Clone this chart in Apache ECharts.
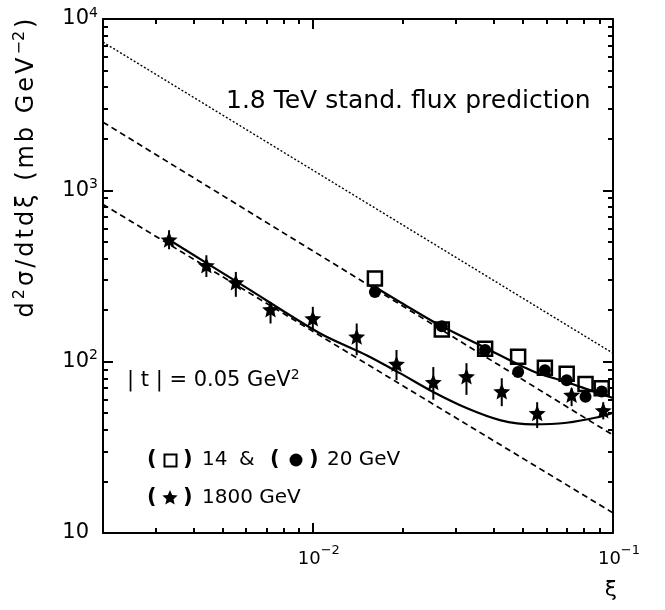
<!DOCTYPE html>
<html><head><meta charset="utf-8">
<script src="https://cdn.jsdelivr.net/npm/echarts@6/dist/echarts.min.js"></script>
<style>html,body{margin:0;padding:0;background:#fff}#c{width:665px;height:610px}</style>
</head><body><div id="c"></div>
<script>
// ---------- axes ----------
const xRange = [0.002, 0.1];
const yRange = [10, 10000];
const xTickValues = [0.01, 0.1];
const xTickLabels = ['10^−2', '10^−1'];
const yTickValues = [10, 100, 1000, 10000];
const yTickLabels = ['10', '10^2', '10^3', '10^4'];
const xMinorTickValues = [0.002,0.003,0.004,0.005,0.006,0.007,0.008,0.009,0.02,0.03,0.04,0.05,0.06,0.07,0.08,0.09];
const yMinorTickValues = [20,30,40,50,60,70,80,90,200,300,400,500,600,700,800,900,2000,3000,4000,5000,6000,7000,8000,9000];

// ---------- data: 1800 GeV (stars) ----------
const xi1800    = [0.00332,0.00442,0.00554,0.00723,0.0100,0.0140,0.0190,0.0252,0.0325,0.0426,0.0559,0.0728,0.0928];
const val1800   = [516,365,290,202,179,140,97,76,82,67,50,64,52];
const errLo1800 = [453,312,239,167,153,109,78,60,64,55,41,55,46];
const errHi1800 = [585,418,334,223,209,167,117,93,98,80,58,70,58];

// ---------- data: 14 GeV (open squares) and 20 GeV (filled circles) ----------
const xi14  = [0.0161,0.0269,0.0375,0.0483,0.0593,0.0701,0.0810,0.0917];
const val14 = [306,154,119,107,92,85,74,70];
const xi20  = [0.0161,0.0269,0.0375,0.0483,0.0593,0.0701,0.0810,0.0917];
const val20 = [255,161,117,87,89,78,62.5,67];

// ---------- curves ----------
const fluxPredXi = [0.002, 0.1];
const fluxPredVal = [7330, 112];
const dashUpXi = [0.002, 0.1];
const dashUpVal = [2500, 37.3];
const dashLoXi = [0.002, 0.1];
const dashLoVal = [828, 13.1];
const fitLowXi  = [0.0161,0.0195,0.0265,0.0375,0.0541,0.0703,0.0838,0.1];
const fitLowVal = [273,223,163,120.6,88,75.9,68.2,61.3];
const fit1800Xi  = [0.00334,0.00593,0.01055,0.0151,0.0195,0.0251,0.0325,0.042,0.0541,0.0701,0.0905,0.1];
const fit1800Val = [511,274,146.6,109.1,85.7,66.7,53.6,45.6,43.0,44.0,47.7,50.3];

// ---------- build ----------
const FONT = 'DejaVu Sans';
const L = Math.log10;
const zip = (a, b) => a.map((v, i) => [v, b[i]]);
const STAR = 'path://M50,0L63.23,31.8L97.55,34.55L71.4,56.95L79.39,90.45L50,72.5L20.61,90.45L28.6,56.95L2.45,34.55L36.77,31.8Z';

function richLabel(txt) {
  const p = txt.split('^');
  return p[1] ? '{b|' + p[0] + '}{s|' + p[1] + '}' : '{bp|' + p[0] + '}';
}
function labelFormatter(vals, labels) {
  return function (v) {
    for (let i = 0; i < vals.length; i++) if (Math.abs(L(vals[i]) - v) < 1e-6) return richLabel(labels[i]);
    return '';
  };
}
const hidden = {axisLine:{show:false}, axisTick:{show:false}, axisLabel:{show:false}, splitLine:{show:false}, minorTick:{show:false}};
function tickAxis(pos, range, ticks, len, line, labelCfg) {
  return Object.assign({}, hidden, {
    type:'value', position:pos, min:L(range[0]), max:L(range[1]),
    axisLine:{show:line, onZero:false, lineStyle:{color:'#000', width:2}},
    axisTick:{show:true, inside:true, length:len, customValues:ticks.map(L), lineStyle:{color:'#000', width:2}},
    axisLabel: labelCfg || {show:false}
  });
}
const xLabelCfg = {
  show:true, customValues:xTickValues.map(L), formatter:labelFormatter(xTickValues, xTickLabels),
  margin:11, padding:[0,0,0,12],
  rich:{ b:{fontFamily:FONT, fontSize:18, lineHeight:30, color:'#000'},
         s:{fontFamily:FONT, fontSize:13, lineHeight:10, verticalAlign:'top', color:'#000'} }
};
const yLabelCfg = {
  show:true, customValues:yTickValues.map(L), formatter:labelFormatter(yTickValues, yTickLabels),
  margin:5,
  rich:{ b:{fontFamily:FONT, fontSize:21, lineHeight:26, color:'#000'},
         bp:{fontFamily:FONT, fontSize:21, lineHeight:26, color:'#000', padding:[0,9,0,0]},
         s:{fontFamily:FONT, fontSize:14, lineHeight:14, verticalAlign:'top', color:'#000'} }
};

const xAxes = [
  Object.assign({}, hidden, {type:'log', logBase:10, min:xRange[0], max:xRange[1], position:'bottom'}),
  tickAxis('bottom', xRange, xTickValues, 10, true, xLabelCfg),
  tickAxis('bottom', xRange, xMinorTickValues, 5, false),
  tickAxis('top', xRange, xTickValues, 10, true),
  tickAxis('top', xRange, xMinorTickValues, 5, false)
];
const yAxes = [
  Object.assign({}, hidden, {type:'log', logBase:10, min:yRange[0], max:yRange[1], position:'left'}),
  tickAxis('left', yRange, yTickValues, 10, true, yLabelCfg),
  tickAxis('left', yRange, yMinorTickValues, 5, false),
  tickAxis('right', yRange, yTickValues, 10, true),
  tickAxis('right', yRange, yMinorTickValues, 5, false)
];

function lineSeries(xs, ys, type, width, smooth) {
  return {type:'line', xAxisIndex:0, yAxisIndex:0, data:zip(xs, ys), symbol:'none', smooth:smooth || false,
          silent:true, lineStyle:{color:'#000', width:width, type:type, opacity:1}};
}

// y-axis title as rich text, one token per character (spacing)
const yTitleParts = [['d','m'],['2','s'],['σ/dtdξ (mb GeV','m'],['−2','s'],[')','m']];
let yTitleText = '';
yTitleParts.forEach(function (p) {
  if (p[1] === 's') yTitleText += '{s|' + p[0] + '}';
  else for (const ch of p[0]) yTitleText += '{m|' + ch + '}';
});

function starPoints(cx, cy, R, r) {
  const pts = [];
  for (let k = 0; k < 10; k++) {
    const a = -Math.PI / 2 + k * Math.PI / 5, rad = k % 2 ? r : R;
    pts.push([cx + rad * Math.cos(a), cy + rad * Math.sin(a)]);
  }
  return pts;
}
const txt = (x, y, s, font, extra) => ({type:'text', x:x, y:y, style:Object.assign({text:s, font:font, fill:'#000', verticalAlign:'middle'}, extra || {})});
const F20 = '20px "DejaVu Sans"';
const P20 = 'bold 21px "DejaVu Sans"';

const chart = echarts.init(document.getElementById('c'), null, {renderer:'canvas'});
chart.setOption({
  animation:false,
  backgroundColor:'#fff',
  textStyle:{fontFamily:FONT},
  grid:{left:103, top:19, width:510, height:514, containLabel:false},
  xAxis:xAxes,
  yAxis:yAxes,
  series:[
    lineSeries(fluxPredXi, fluxPredVal, [2,2], 1.4),
    lineSeries(dashUpXi, dashUpVal, [6,4], 1.7),
    lineSeries(dashLoXi, dashLoVal, [6,4], 1.7),
    lineSeries(fitLowXi, fitLowVal, 'solid', 2.2, 0.3),
    lineSeries(fit1800Xi, fit1800Val, 'solid', 2.2, 0.3),
    {type:'custom', xAxisIndex:0, yAxisIndex:0, silent:true,
     data:xi1800.map((x, i) => [x, errLo1800[i], errHi1800[i]]),
     encode:{x:0, y:[1,2]},
     renderItem:function (params, api) {
       const p1 = api.coord([api.value(0), api.value(1)]);
       const p2 = api.coord([api.value(0), api.value(2)]);
       return {type:'line', shape:{x1:p1[0], y1:p1[1], x2:p2[0], y2:p2[1]}, style:{stroke:'#000', lineWidth:2}};
     }},
    {type:'scatter', xAxisIndex:0, yAxisIndex:0, data:zip(xi14, val14), symbol:'rect', symbolSize:14,
     itemStyle:{color:'#fff', borderColor:'#000', borderWidth:2.5, opacity:1}, silent:true},
    {type:'scatter', xAxisIndex:0, yAxisIndex:0, data:zip(xi20, val20), symbol:'circle', symbolSize:12,
     itemStyle:{color:'#000', opacity:1}, silent:true},
    {type:'scatter', xAxisIndex:0, yAxisIndex:0, data:zip(xi1800, val1800), symbol:STAR, symbolKeepAspect:true, symbolSize:17,
     itemStyle:{color:'#000', opacity:1}, silent:true}
  ],
  graphic:[
    txt(226, 101, '1.8 TeV stand. flux prediction', '25px "DejaVu Sans"'),
    {type:'text', x:127, y:381, style:{text:'{a|| t | = 0.05 GeV}{s|2}', verticalAlign:'middle', fill:'#000',
      rich:{a:{fontFamily:FONT, fontSize:21, lineHeight:26, color:'#000'}, s:{fontFamily:FONT, fontSize:14, lineHeight:14, verticalAlign:'top', color:'#000'}}}},
    // legend line 1
    txt(147, 460, '(', P20),
    {type:'rect', shape:{x:164.5, y:454.5, width:12, height:12}, style:{fill:'#fff', stroke:'#000', lineWidth:2}},
    txt(183, 460, ')', P20),
    txt(202, 460, '14', F20),
    txt(239, 460, '&', F20),
    txt(270, 460, '(', P20),
    {type:'circle', shape:{cx:296, cy:460, r:6.5}, style:{fill:'#000'}},
    txt(309, 460, ')', P20),
    txt(327, 460, '20 GeV', F20),
    // legend line 2
    txt(147, 498, '(', P20),
    {type:'polygon', shape:{points:starPoints(170, 498, 8, 3.7)}, style:{fill:'#000'}},
    txt(183, 498, ')', P20),
    txt(202, 498, '1800 GeV', F20),
    // axis titles
    txt(611, 590, 'ξ', '22px "DejaVu Sans"', {align:'center'}),
    {type:'text', x:27, y:168, rotation:Math.PI / 2,
     style:{text:yTitleText, align:'center', verticalAlign:'middle', fill:'#000',
       rich:{m:{fontFamily:FONT, fontSize:24, lineHeight:30, color:'#000', padding:[0,1.5,0,1.5]},
             s:{fontFamily:FONT, fontSize:16, lineHeight:16, verticalAlign:'top', color:'#000', padding:[0,1.5,0,1.5]}}}}
  ]
});
</script></body></html>
